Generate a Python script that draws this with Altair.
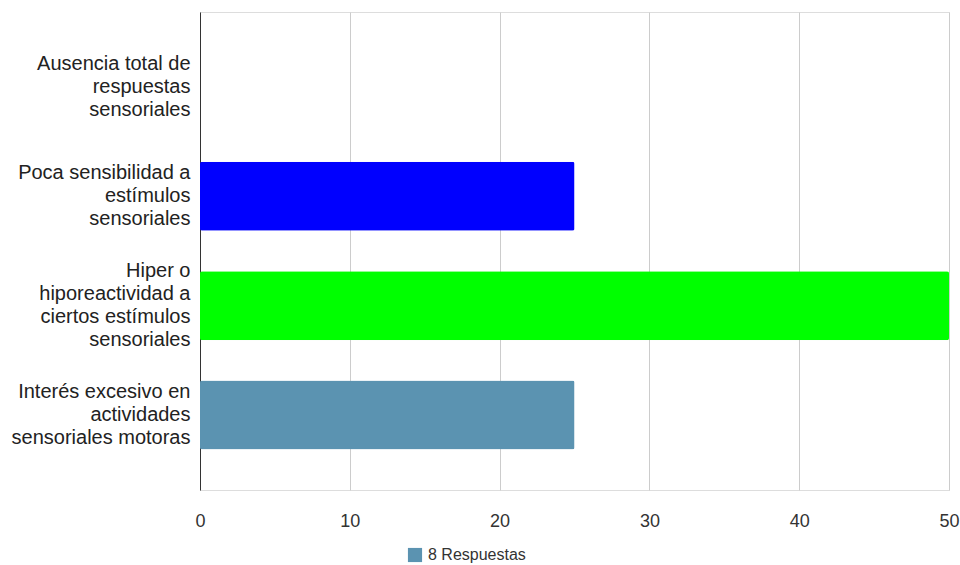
import altair as alt
import pandas as pd

categorias = [
    "Ausencia total de|respuestas|sensoriales",
    "Poca sensibilidad a|estímulos|sensoriales",
    "Hiper o|hiporeactividad a|ciertos estímulos|sensoriales",
    "Interés excesivo en|actividades|sensoriales motoras",
]
valores = [0, 25, 50, 25]
colores = ["#5b93b1", "#0000ff", "#00ff00", "#5b93b1"]
serie = "8 Respuestas"
ticks_x = [0, 10, 20, 30, 40, 50]

df = pd.DataFrame({"categoria": categorias, "valor": valores})

FONT = "Liberation Sans"
LH = 23

bars = alt.Chart(df).mark_bar(cornerRadius=2).encode(
    y=alt.Y(
        "categoria:N",
        sort=categorias,
        title=None,
        scale=alt.Scale(paddingInner=0.37, paddingOuter=0.37),
        axis=alt.Axis(
            labelExpr="split(datum.value, '|')",
            labelFontSize=20,
            labelLineHeight=LH,
            labelColor="#222222",
            labelFont=FONT,
            labelPadding=10,
            labelOffset={
                "condition": {
                    "test": "length(split(datum.value, '|')) == 4",
                    "value": -1.5 * LH,
                },
                "value": -1.0 * LH,
            },
            ticks=False,
            grid=False,
            domainColor="#333333",
            domainWidth=1,
            labelLimit=300,
        ),
    ),
    x=alt.X(
        "valor:Q",
        title=None,
        scale=alt.Scale(domain=[0, 50], nice=False),
        axis=alt.Axis(
            values=ticks_x,
            domain=False,
            ticks=False,
            grid=True,
            gridColor="#cccccc",
            gridWidth=1,
            labelFontSize=18,
            labelColor="#333333",
            labelFont=FONT,
            labelPadding=22,
            labelFlush=False,
        ),
    ),
    color=alt.Color(
        "categoria:N",
        scale=alt.Scale(domain=categorias, range=colores),
        legend=alt.Legend(
            title=None,
            values=[categorias[3]],
            labelExpr=f"'{serie}'",
            orient="none",
            legendX=207,
            legendY=535,
            symbolType="square",
            symbolSize=200,
            symbolStrokeWidth=0,
            labelFontSize=16,
            labelFont=FONT,
            labelColor="#333333",
            labelOffset=5,
        ),
    ),
)

chart = bars.properties(
    width=749,
    height=478,
    autosize=alt.AutoSizeParams(type="none"),
    padding={"left": 200, "top": 12, "right": 11, "bottom": 75},
).configure_view(stroke=None).configure(background="white")

chart.save("out.html", embed_options={"renderer": "svg", "actions": False})
